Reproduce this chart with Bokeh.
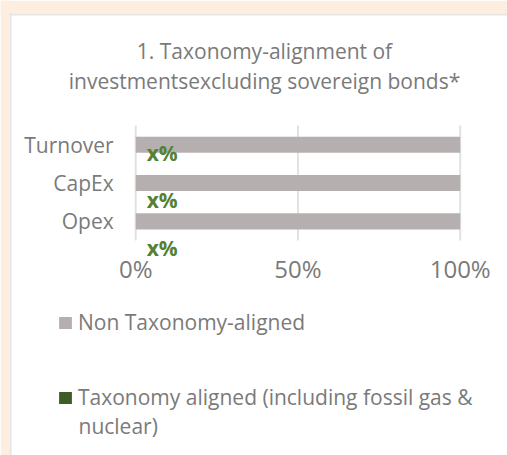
from bokeh.plotting import figure
from bokeh.models import (ColumnDataSource, Range1d, FixedTicker, Label, BoxAnnotation,
                          Legend, LegendItem, NumeralTickFormatter)
from bokeh.embed import file_html
from bokeh.resources import INLINE
from bokeh.core.properties import value

# ---- data ----
categories = ["Turnover", "CapEx", "Opex"]
non_aligned = [1.0, 1.0, 1.0]          # Non Taxonomy-aligned share
aligned = [0.0, 0.0, 0.0]              # Taxonomy aligned share (placeholder "x%")
aligned_labels = ["x%", "x%", "x%"]
x_ticks = [0.0, 0.5, 1.0]
title_lines = ["1. Taxonomy-alignment of", "investmentsexcluding sovereign bonds*"]
legend_labels = ["Non Taxonomy-aligned", "Taxonomy aligned (including fossil gas &"]
legend_label_continued = "nuclear)"

FONT = "Open Sans"
FS = "21px"
GRAY_TXT = "#7a7a7a"
BAR_GRAY = "#b5b0af"
GREEN_LBL = "#548235"
GREEN_SQ = "#3d5c26"
PEACH = "#fdeedf"
CARD_LINE = "#e6e6e6"

W, H = 507, 455
PX_X = 324.5        # pixels per 100 %
PX_Y = 38.33        # pixels per category
X0_PX = 135.2       # canvas x of 0 %
Y2_PX = 144.2       # canvas y of the top category centre

n = len(categories)
ypos = [n - 1 - i for i in range(n)]  # Turnover on top
label_y = [y - 0.21 - 0.24 * i for i, y in enumerate(ypos)]

def dx(px):  # canvas x -> data x
    return (px - X0_PX) / PX_X

def dy(py):  # canvas y (from top) -> data y
    return (n - 1) + (Y2_PX - py) / PX_Y

src = ColumnDataSource(dict(cat=categories, y=ypos, non=non_aligned, al=aligned,
                            lbl=aligned_labels, ly=label_y))

p = figure(width=W, height=H, output_backend="svg", toolbar_location=None,
           x_range=Range1d(dx(0), dx(W)), y_range=Range1d(dy(H), dy(0)),
           min_border=0, min_border_left=0, min_border_right=0,
           min_border_top=0, min_border_bottom=0)
p.background_fill_color = "white"
p.border_fill_color = "white"
p.outline_line_color = None
p.xgrid.grid_line_color = None
p.ygrid.grid_line_color = None

# peach page strips and the card's grey edge (top and left)
for kw, col in ((dict(bottom=dy(13)), PEACH),
                (dict(right=dx(9)), PEACH),
                (dict(top=dy(13), bottom=dy(15), left=dx(9)), CARD_LINE),
                (dict(left=dx(9), right=dx(11), top=dy(13)), CARD_LINE)):
    p.add_layout(BoxAnnotation(fill_color=col, fill_alpha=1.0, line_color=None,
                               level="underlay", **kw))

# vertical gridlines over the bar area
p.segment(x0=x_ticks, x1=x_ticks, y0=-0.5, y1=n - 0.5, line_color="#e2e2e2", line_width=2)

r_non = p.hbar(y="y", right="non", left=0, height=0.42, source=src,
               fill_color=BAR_GRAY, line_color=None)
r_al = p.hbar(y="y", right="al", left=0, height=0.42, source=src,
              fill_color=GREEN_SQ, line_color=None)

p.text(x="al", y="ly", text="lbl", source=src, x_offset=11,
       text_font=value(FONT), text_font_size=FS, text_font_style="bold",
       text_color=GREEN_LBL, text_baseline="middle")

# axes, fixed inside the canvas
p.xaxis.fixed_location = -0.5
p.yaxis.fixed_location = 0.0
p.xaxis.ticker = FixedTicker(ticks=x_ticks)
p.xaxis.formatter = NumeralTickFormatter(format="0%")
p.yaxis.ticker = FixedTicker(ticks=ypos)
p.yaxis.major_label_overrides = {y: c for y, c in zip(ypos, categories)}
for ax in (p.xaxis[0], p.yaxis[0]):
    ax.axis_line_color = None
    ax.major_tick_line_color = None
    ax.minor_tick_line_color = None
    ax.major_tick_out = 0
    ax.major_tick_in = 0
    ax.minor_tick_out = 0
    ax.major_label_text_font = FONT
    ax.major_label_text_color = GRAY_TXT
p.xaxis.major_label_text_font_size = "24px"
p.yaxis.major_label_text_font_size = FS
p.xaxis.major_label_standoff = 11
p.yaxis.major_label_standoff = 22

# title (two centred lines)
for line, ty in zip(title_lines, [50, 80]):
    p.add_layout(Label(x=dx(264), y=dy(ty), text=line, text_font=FONT, text_font_size=FS,
                       text_color=GRAY_TXT, text_align="center", text_baseline="middle"))

# legend (one block per series); location is measured from the canvas bottom
for rend, lab, top_px in ((r_non, legend_labels[0], 336), (r_al, legend_labels[1], 411)):
    p.add_layout(Legend(items=[LegendItem(label=lab, renderers=[rend])],
                        location=(57, H - top_px),
                        glyph_width=16, glyph_height=15, label_standoff=5, padding=0,
                        margin=0, label_height=12, border_line_color=None,
                        background_fill_alpha=0, label_text_font=FONT,
                        label_text_font_size=FS, label_text_color=GRAY_TXT))
# wrapped second line of the second legend entry
p.add_layout(Label(x=dx(78), y=dy(425.5), text=legend_label_continued, text_font=FONT,
                   text_font_size=FS, text_color=GRAY_TXT, text_align="left",
                   text_baseline="middle"))

open("out.html", "w").write(file_html(p, INLINE))
